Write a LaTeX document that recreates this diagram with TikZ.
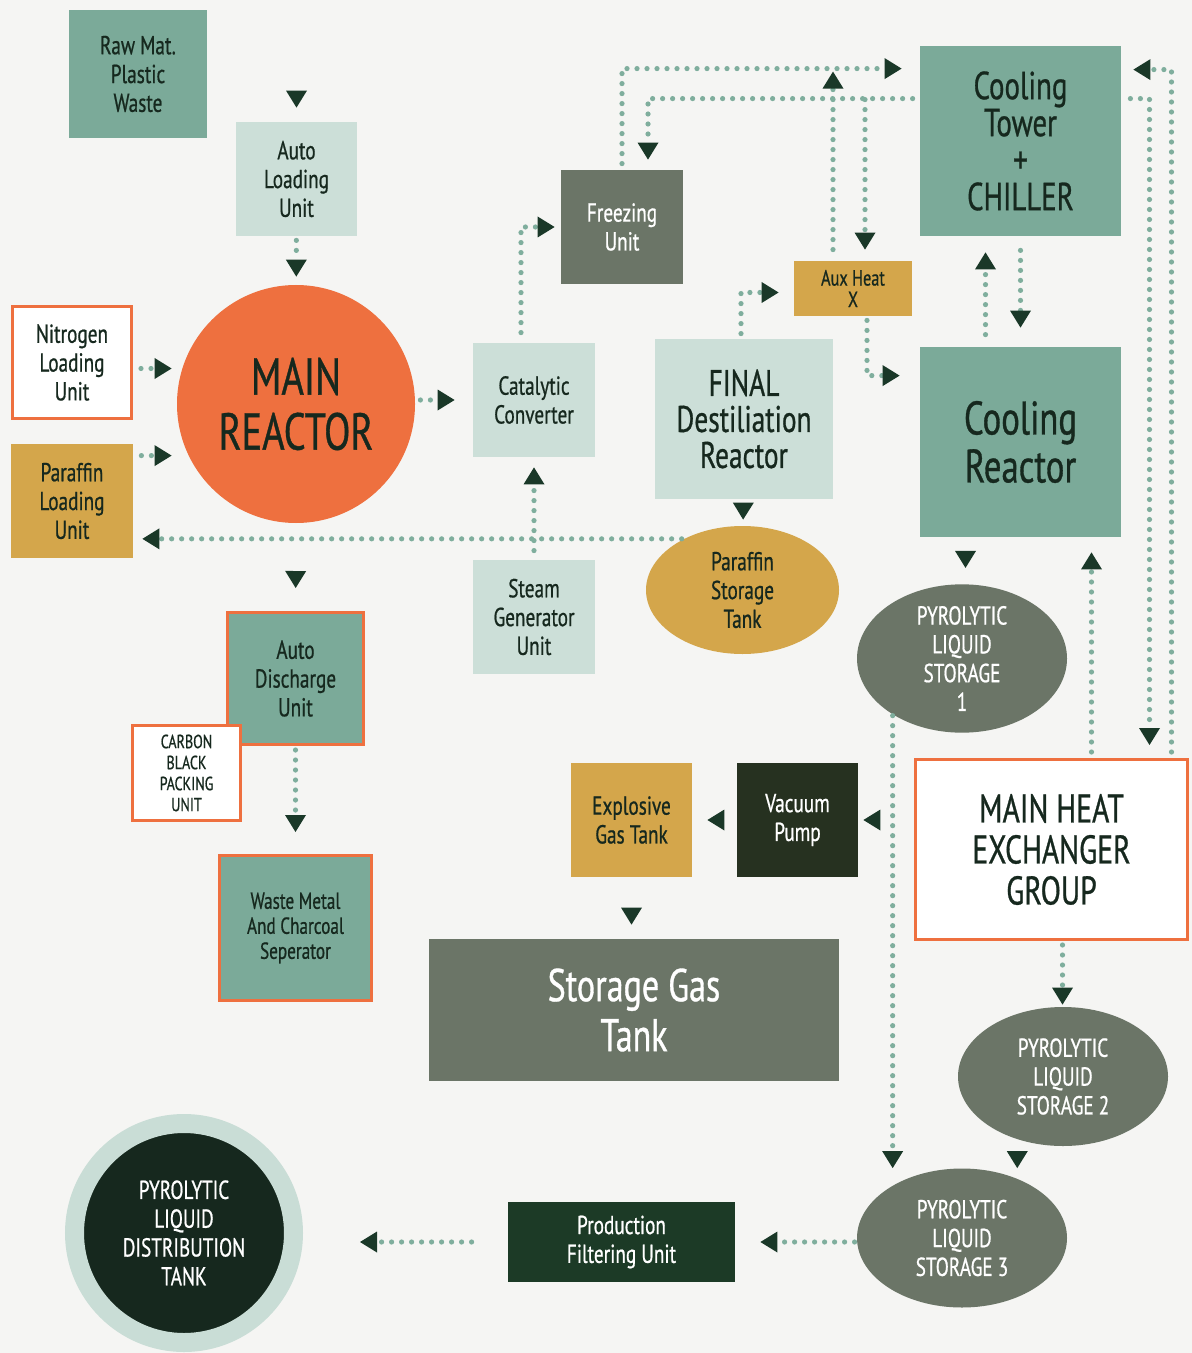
\documentclass[tikz,border=0pt]{standalone}
\usepackage{fontspec}
\setmainfont{PT Sans}[FakeStretch=0.74, FakeBold=0.7]
\usepackage{tikz}
\usetikzlibrary{
  arrows.meta,
  calc,
  shapes.geometric
}
\lineskiplimit=-100pt
\definecolor{pyropaper}{RGB}{245,245,243}
\definecolor{pyroteal}{RGB}{123,170,153}
\definecolor{pyropale}{RGB}{204,223,216}
\definecolor{pyroslate}{RGB}{107,117,103}
\definecolor{pyrogold}{RGB}{212,166,75}
\definecolor{pyrorust}{RGB}{238,112,63}
\definecolor{pyronight}{RGB}{38,49,32}
\definecolor{pyropine}{RGB}{28,58,38}
\definecolor{pyroink}{RGB}{22,40,30}
\definecolor{pyroring}{RGB}{201,221,214}
\definecolor{pyrodot}{RGB}{127,174,157}
\definecolor{pyrotip}{RGB}{26,56,40}
\tikzset{
  pyroBox/.style={
    rectangle,
    inner sep=0pt,
    align=center,
    text=pyroink,
    font=\fontsize{13}{14.4}\selectfont
  },
  pyroTeal/.style={pyroBox, fill=pyroteal},
  pyroPale/.style={pyroBox, fill=pyropale},
  pyroSlate/.style={pyroBox, fill=pyroslate, text=white},
  pyroGold/.style={pyroBox, fill=pyrogold},
  pyroRim/.style={draw=pyrorust, line width=1.5pt},
  pyroTank/.style={
    ellipse,
    inner sep=0pt,
    align=center,
    fill=pyroslate,
    text=white,
    font=\fontsize{13}{14.4}\selectfont,
    minimum width=105pt,
    minimum height=69.5pt
  },
  pyroFlow/.style={
    draw=pyrodot,
    line width=2.6pt,
    line cap=round,
    dash pattern=on 0pt off 5pt,
    -{Triangle[length=8.5pt, width=10.5pt, line width=0pt, color=pyrotip]},
    shorten <=2pt,
    shorten >=4pt
  },
  pyroTip/.style={
    pyroFlow,
    line cap=butt,
    dash pattern=on 0pt off 2000pt
  }
}

\begin{document}
\begin{tikzpicture}[x=0.5pt, y=-0.5pt]
  \fill[pyropaper] (0,0) rectangle (1192,1353);

  % left column
  \node[pyroTeal, minimum width=69pt, minimum height=64pt] (rawmat) at (138,74) {Raw Mat.\\Plastic\\Waste};
  \node[pyroPale, minimum width=60.5pt, minimum height=57pt] (autoload) at (296.5,179) {Auto\\Loading\\Unit};
  \node[circle, fill=pyrorust, inner sep=0pt, minimum size=119pt, align=center, text=pyroink,
        font=\fontsize{26}{27.5}\selectfont] (reactor) at (296,404) {MAIN\\REACTOR};
  \node[pyroBox, pyroRim, fill=white, minimum width=59.5pt, minimum height=56pt] (nitrogen) at (72,362.5) {Nitrogen\\Loading\\Unit};
  \node[pyroGold, minimum width=61pt, minimum height=57pt] (parload) at (72,501) {Paraffin\\Loading\\Unit};
  \node[pyroTeal, pyroRim, minimum width=68pt, minimum height=66pt] (discharge) at (295.5,678.5) {Auto\\Discharge\\Unit};
  \node[pyroBox, pyroRim, fill=white, minimum width=54pt, minimum height=47.5pt,
        font=\fontsize{9.5}{10.5}\selectfont] (carbon) at (186.5,773) {CARBON\\BLACK\\PACKING\\UNIT};
  \node[pyroTeal, pyroRim, minimum width=76pt, minimum height=72.5pt,
        font=\fontsize{11.6}{12.5}\selectfont] (waste) at (295.5,928) {Waste Metal\\And Charcoal\\Seperator};
  \node[circle, fill=pyroink, draw=pyroring, line width=9.5pt, inner sep=0pt, minimum size=109.5pt,
        align=center, text=white, font=\fontsize{13}{14.4}\selectfont] (dist) at (184,1233) {PYROLYTIC\\LIQUID\\DISTRIBUTION\\TANK};

  % middle column
  \node[pyroPale, minimum width=61pt, minimum height=57pt] (catalytic) at (534,400) {Catalytic\\Converter};
  \node[pyroSlate, minimum width=61pt, minimum height=57pt] (freezing) at (622,227) {Freezing\\Unit};
  \node[pyroPale, minimum width=89pt, minimum height=80pt,
        font=\fontsize{18.5}{18}\selectfont] (final) at (744,419) {FINAL\\Destiliation\\Reactor};
  \node[pyroGold, minimum width=59pt, minimum height=27.5pt,
        font=\fontsize{11}{10.8}\selectfont] (aux) at (853,288.5) {Aux Heat\\X};
  \node[pyroPale, minimum width=61pt, minimum height=57pt] (steam) at (534,617) {Steam\\Generator\\Unit};
  \node[pyroGold, ellipse, minimum width=96.5pt, minimum height=64pt] (pstore) at (742.5,590) {Paraffin\\Storage\\Tank};
  \node[pyroGold, minimum width=60.5pt, minimum height=57pt] (explosive) at (631.5,820) {Explosive\\Gas Tank};
  \node[pyroBox, fill=pyronight, text=white, minimum width=60.5pt, minimum height=57pt] (vacuum) at (797.5,820) {Vacuum\\Pump};
  \node[pyroSlate, minimum width=205pt, minimum height=71pt,
        font=\fontsize{23}{25}\selectfont] (gastank) at (634,1010) {Storage Gas\\Tank};
  \node[pyroBox, fill=pyropine, text=white, minimum width=113.5pt, minimum height=40pt] (filtering) at (621.5,1242) {Production\\Filtering Unit};

  % right column
  \node[pyroTeal, minimum width=100.5pt, minimum height=95pt,
        font=\fontsize{19.5}{18.5}\selectfont] (tower) at (1020.5,141) {Cooling\\Tower\\+\\CHILLER};
  \node[pyroTeal, minimum width=100.5pt, minimum height=95pt,
        font=\fontsize{23.5}{24}\selectfont] (coolreact) at (1020.5,442) {Cooling\\Reactor};
  \node[pyroTank] (pyro1) at (962,658.5) {PYROLYTIC\\LIQUID\\STORAGE\\1};
  \node[pyroBox, pyroRim, fill=white, minimum width=136pt, minimum height=90pt,
        font=\fontsize{20}{20.5}\selectfont] (hx) at (1051.5,849.5) {MAIN HEAT\\EXCHANGER\\GROUP};
  \node[pyroTank] (pyro2) at (1063,1076.5) {PYROLYTIC\\LIQUID\\STORAGE 2};
  \node[pyroTank] (pyro3) at (962,1238) {PYROLYTIC\\LIQUID\\STORAGE 3};

  % bends of the pipe runs
  \coordinate (towerIn) at ([yshift=-11.5pt]tower.north west);
  \coordinate (towerOut) at ([yshift=-26.5pt]tower.north west);
  \coordinate (towerBack) at ([yshift=-12pt]tower.north east);
  \coordinate (towerSide) at ([yshift=-26.5pt]tower.north east);
  \coordinate (auxUp) at ([xshift=-10pt]aux.north);
  \coordinate (auxDown) at ([xshift=6pt]aux.north);
  \coordinate (auxIn) at ([yshift=-2pt]aux.west);
  \coordinate (auxOut) at ([xshift=7pt]aux.south);
  \coordinate (nitroOut) at ([yshift=-3pt]nitrogen.east);
  \coordinate (paraOut) at ([yshift=-6pt]parload.north east);
  \coordinate (cataUp) at ([xshift=-6.5pt]catalytic.north);
  \coordinate (finalUp) at ([xshift=-1.5pt]final.north);
  \coordinate (freezeIn) at ([xshift=13pt]freezing.north);
  \coordinate (reactIn) at ([yshift=-14.5pt]coolreact.north west);
  \coordinate (reactUp) at ([xshift=-17.5pt]coolreact.north);
  \coordinate (reactDown) at ([xshift=-27.5pt]coolreact.south);
  \coordinate (hxUp) at ([xshift=20pt]hx.north);
  \coordinate (hxRise) at ([xshift=60pt]hx.north);
  \coordinate (hxFeed) at ([xshift=49pt]hx.north);
  \coordinate (hxDown) at ([xshift=5.5pt]hx.south);

  % feed side
  \draw[pyroTip, shorten >=7pt] (rawmat.east -| autoload.north) -- (autoload.north);
  \draw[pyroFlow] (autoload) -- (reactor);
  \draw[pyroFlow, shorten <=4pt, shorten >=2.5pt] (nitroOut) -- (nitroOut -| reactor.west);
  \draw[pyroFlow, shorten <=4pt, shorten >=2.5pt] (paraOut) -- (paraOut -| reactor.west);
  \draw[pyroTip, shorten >=11.5pt] (reactor) -- (discharge);
  \draw[pyroFlow, shorten >=11pt] (discharge) -- (waste);

  % vapour side
  \draw[pyroFlow, shorten <=2.5pt, shorten >=9pt] (reactor.east |- catalytic.west) -- (catalytic.west);
  \draw[pyroFlow, shorten <=5pt, shorten >=3pt] (cataUp) |- (freezing.west);
  \draw[pyroFlow, shorten <=4.5pt, shorten >=5pt] (steam) -- (catalytic);
  \draw[pyroFlow, shorten <=1pt, shorten >=4.5pt] (pstore.139) -- (pstore.139 -| parload.east);
  \draw[pyroTip, shorten >=3pt] (final) -- (pstore);
  \draw[pyroFlow, shorten <=2.5pt, shorten >=7.5pt] (finalUp) |- (auxIn);
  \draw[pyroFlow, shorten >=10pt] (auxOut) |- (reactIn);

  % cooling loops
  \draw[pyroFlow, shorten <=3pt, shorten >=9pt] (freezing.north) |- (towerIn);
  \draw[pyroFlow, shorten <=3.5pt, shorten >=5pt] (towerOut) -| (freezeIn);
  \draw[pyroFlow, shorten <=5.5pt, shorten >=1.5pt] (auxUp) -- (auxUp |- towerIn);
  \draw[pyroFlow, shorten <=0.5pt, shorten >=5.5pt] (auxDown |- towerOut) -- (auxDown);
  \draw[pyroFlow, shorten <=6pt, shorten >=8pt] (reactUp) -- (reactUp |- tower.south);
  \draw[pyroFlow, shorten <=7pt, shorten >=9.5pt] (tower.south) -- (coolreact.north);
  \draw[pyroFlow, shorten <=3pt, shorten >=7.5pt] (hxUp) -- (hxUp |- coolreact.south);
  \draw[pyroFlow, shorten <=3pt, shorten >=6pt] (hxRise) |- (towerBack);
  \draw[pyroFlow, shorten <=4.5pt, shorten >=6.5pt] (towerSide) -| (hxFeed);

  % liquid and gas outlets
  \draw[pyroTip, shorten >=8pt] (reactDown) -- (reactDown |- pyro1.north);
  \draw[pyroFlow, shorten <=0.5pt, shorten >=0pt] (pyro1.219) -- (pyro1.219 |- pyro3.north);
  \draw[pyroTip, shorten >=2.5pt] (vacuum.east -| hx.west) -- (vacuum.east);
  \draw[pyroTip, shorten >=7.5pt] (vacuum) -- (explosive);
  \draw[pyroTip, shorten >=7pt] (explosive.south) -- (explosive.south |- gastank.north);
  \draw[pyroFlow, shorten >=1pt] (hxDown) -- (hxDown |- pyro2.north);
  \draw[pyroTip, shorten >=0pt] (pyro2.234) -- (pyro2.234 |- pyro3.north);
  \draw[pyroFlow, shorten <=1pt, shorten >=12.5pt] (filtering.east -| pyro3.west) -- (filtering.east);
  \draw[pyroFlow, shorten <=18pt, shorten >=28.5pt] (filtering.west) -- (filtering.west -| dist.east);
\end{tikzpicture}
\end{document}
